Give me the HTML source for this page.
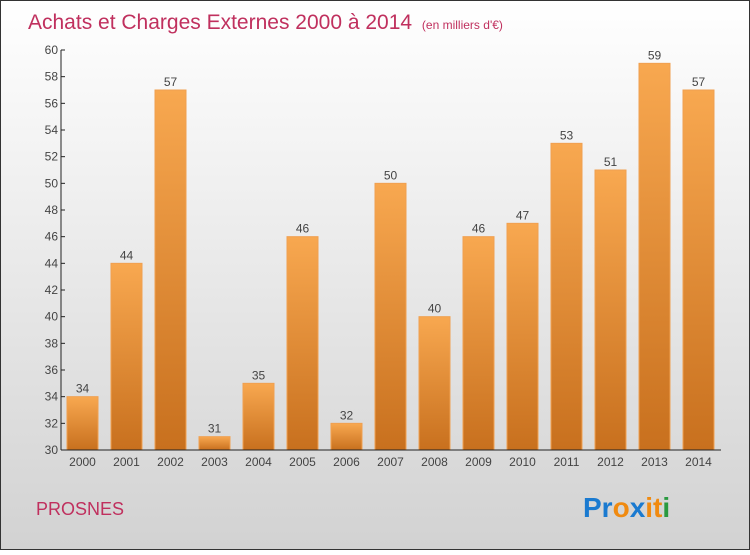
<!DOCTYPE html>
<html><head><meta charset="utf-8"><style>
body{margin:0;width:750px;height:550px;overflow:hidden;font-family:"Liberation Sans",sans-serif}
</style></head><body>
<svg width="750" height="550" xmlns="http://www.w3.org/2000/svg">
<defs>
<linearGradient id="bg" x1="0" y1="0" x2="0" y2="1"><stop offset="0" stop-color="#ffffff"/><stop offset="1" stop-color="#d2d2d2"/></linearGradient>
<linearGradient id="bar" x1="0" y1="0" x2="0" y2="1"><stop offset="0" stop-color="#f8a850"/><stop offset="1" stop-color="#c8701e"/></linearGradient>
</defs>
<rect x="0.5" y="0.5" width="749" height="549" fill="url(#bg)" stroke="#333"/>
<text x="28" y="29" font-size="21" fill="#c0305e">Achats et Charges Externes 2000 à 2014 <tspan font-size="12" dx="4">(en milliers d'€)</tspan></text>
<g id="plot"></g>
<text x="36" y="515" font-size="18" fill="#c0305e">PROSNES</text>
<g font-size="28" font-weight="bold" font-family="'Liberation Sans',sans-serif">
<text x="583" y="517"><tspan fill="#1a7ad0">Pr</tspan><tspan fill="#f08a10">o</tspan><tspan fill="#1a7ad0">x</tspan><tspan fill="#f08a10">i</tspan><tspan fill="#f08a10">t</tspan><tspan fill="#2a9a40">i</tspan></text>
</g>
</svg>
<script>
const categories=["2000","2001","2002","2003","2004","2005","2006","2007","2008","2009","2010","2011","2012","2013","2014"];
const values=[34,44,57,31,35,46,32,50,40,46,47,53,51,59,57];
const yTicks=[30,32,34,36,38,40,42,44,46,48,50,52,54,56,58,60];
const NS="http://www.w3.org/2000/svg";
const g=document.getElementById('plot');
const y0=450,y1=50,vmin=30,vmax=60,axX=61;
const yScale=v=>y0-(v-vmin)/(vmax-vmin)*(y0-y1);
const xScale=i=>82.5+i*44;
function mk(t,a){const e=document.createElementNS(NS,t);for(const k in a)e.setAttribute(k,a[k]);g.appendChild(e);return e;}
values.forEach((v,i)=>{
 const r=mk('rect',{x:xScale(i)-15.5,y:yScale(v),width:31,height:y0-yScale(v),fill:'url(#bar)',stroke:'#f0a050','stroke-width':1});
 
 
 const t=mk('text',{x:xScale(i),y:yScale(v)-4,'text-anchor':'middle','font-size':12,fill:'#444'});
 t.textContent=v;
 
 
 const c=mk('text',{x:xScale(i),y:466,'text-anchor':'middle','font-size':12,fill:'#444'});
 c.textContent=categories[i];
 
 
});
yTicks.forEach(v=>{
 mk('line',{x1:axX,x2:axX+4,y1:yScale(v),y2:yScale(v),stroke:'#222'});
 const t=mk('text',{x:axX-3,y:yScale(v)+4,'text-anchor':'end','font-size':12,fill:'#444'});
 t.textContent=v;
 
 
});
const ya=mk('line',{x1:axX,x2:axX,y1:y1,y2:y0,stroke:'#222'});


const xa=mk('line',{x1:axX,x2:721,y1:y0,y2:y0,stroke:'#222'});


</script>
</body></html>
